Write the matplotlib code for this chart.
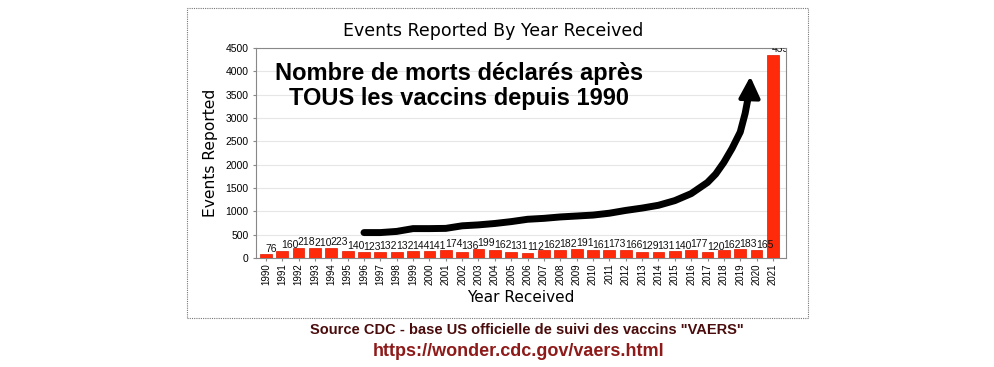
import matplotlib
matplotlib.use("Agg")
import matplotlib.pyplot as plt
import matplotlib.patches as patches
import numpy as np

years = list(range(1990, 2022))
deaths = [76, 160, 218, 210, 223, 140, 123, 132, 132, 144, 141, 174, 136, 199, 162, 131,
          112, 162, 182, 191, 161, 173, 166, 129, 131, 140, 177, 120, 162, 183, 165, 4359]

# Flèche dessinée à la main (année, valeur)
trend_years = [1996.0, 1997.0, 1998.0, 1999.0, 2000.0, 2001.0, 2002.0, 2003.0, 2004.0, 2005.0,
               2006.0, 2007.0, 2008.0, 2009.0, 2010.0, 2011.0, 2012.0, 2013.0, 2014.0, 2015.0,
               2016.0, 2017.0, 2017.5, 2018.0, 2018.5, 2019.0, 2019.3, 2019.6]
trend_vals = [545, 545, 570, 630, 630, 635, 690, 710, 740, 780,
              830, 850, 880, 900, 920, 960, 1020, 1070, 1130, 1230,
              1380, 1620, 1800, 2050, 2350, 2700, 3100, 3650]

plt.rcParams['font.family'] = ['DejaVu Sans']

fig = plt.figure(figsize=(9.95, 3.67), dpi=100)
fig.patch.set_facecolor('white')
ax = fig.add_axes([0.2573, 0.297, 0.5327, 0.572])

x = np.arange(len(years))
ax.bar(x, deaths, width=0.72, color='#ff2a0a', edgecolor='#e01800', linewidth=0.5, zorder=3)
for xi, v in zip(x, deaths):
    ax.text(xi - 0.05, v + 15, str(v), ha='left', va='bottom', fontsize=7.5,
            color='#111111', zorder=4, clip_on=True, family='Liberation Sans')

ax.set_xlim(-0.6, len(years) - 0.2)
ax.set_ylim(0, 4500)
ax.set_yticks(range(0, 4501, 500))
ax.set_xticks(x)
ax.set_xticklabels([str(y) for y in years], rotation=90, fontsize=7, family='Liberation Sans')
ax.tick_params(axis='y', labelsize=7.5, length=2, color='#888888')
ax.tick_params(axis='x', length=2, color='#888888', pad=2)
for lbl in ax.get_yticklabels():
    lbl.set_family('Liberation Sans')
ax.grid(axis='y', color='#e6e6e6', linewidth=0.8, zorder=0)
for s in ax.spines.values():
    s.set_color('#888888')
    s.set_linewidth(0.8)

fig.text(493 / 995, 1 - 31 / 367, 'Events Reported By Year Received', ha='center', va='center',
         fontsize=12.5)
ax.set_ylabel('Events Reported', fontsize=11.2, labelpad=5)
ax.set_xlabel('Year Received', fontsize=11, labelpad=3)

# flèche noire
tx = [y - 1990 for y in trend_years]
ax.plot(tx, trend_vals, color='black', linewidth=5, solid_capstyle='round', zorder=5)
ax.annotate('', xy=(29.62, 3950), xytext=(29.58, 3550),
            arrowprops=dict(arrowstyle='-|>,head_width=0.65,head_length=1.3',
                            color='black', lw=3), zorder=6)

ax.text(11.8, 4200, 'Nombre de morts déclarés après\nTOUS les vaccins depuis 1990',
        ha='center', va='top', fontsize=17, fontweight='bold', family='Liberation Sans',
        linespacing=1.1, zorder=6)

# cadre pointillé
fig.patches.append(patches.Rectangle((187 / 995, 1 - 318 / 367), (808 - 187) / 995, (318 - 8) / 367,
                                     transform=fig.transFigure, fill=False,
                                     edgecolor='#777777', linestyle=(0, (1, 1)), linewidth=0.8))

fig.text(527 / 995, 1 - 330 / 367, 'Source CDC - base US officielle de suivi des vaccins "VAERS"',
         ha='center', va='center', fontsize=10.5, fontweight='bold', color='#4a0c0c',
         family='Liberation Sans')
fig.text(519 / 995, 1 - 352 / 367, 'https://wonder.cdc.gov/vaers.html',
         ha='center', va='center', fontsize=13, fontweight='bold', color='#8e1a1a',
         family='Liberation Sans')

fig.savefig('out.png', dpi=100)
